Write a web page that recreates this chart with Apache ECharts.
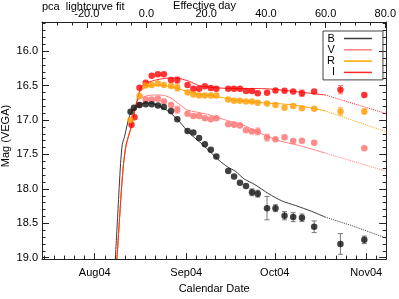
<!DOCTYPE html>
<html><head><meta charset="utf-8">
<script src="https://cdn.jsdelivr.net/npm/echarts@6/dist/echarts.min.js"></script>
<style>html,body{margin:0;padding:0;background:#fff}#c{width:399px;height:299px}</style>
</head><body><div id="c"></div>
<script>
// calendar axis: days since 2004 Aug 1
const monthTicks = [0, 31, 61, 92];
const monthLabels = ['Aug04', 'Sep04', 'Oct04', 'Nov04'];
const monthStarts = [-31, 0, 31, 61, 92, 122];
const effTicks = [-20, 0, 20, 40, 60, 80];
const magTicks = [16.0, 16.5, 17.0, 17.5, 18.0, 18.5, 19.0];

// observed photometry
const dayB = [12.13, 13.31, 15.17, 17.29, 19.31, 21.40, 23.42, 25.85, 27.97, 31.45, 33.43, 35.36, 37.31, 39.33, 41.22, 45.23, 47.22, 49.21, 51.26, 53.29, 55.24, 58.38, 61.24, 64.31, 67.24, 70.21, 74.35, 83.25, 91.34];
const magB = [16.88, 16.82, 16.78, 16.77, 16.77, 16.79, 16.81, 16.87, 16.99, 17.16, 17.18, 17.26, 17.35, 17.43, 17.53, 17.74, 17.82, 17.91, 17.96, 18.05, 18.07, 18.28, 18.28, 18.39, 18.41, 18.42, 18.55, 18.80, 18.74];
const errB = [0, 0, 0, 0, 0, 0, 0, 0, 0, 0, 0, 0, 0, 0, 0, 0, 0, 0, 0, 0.05, 0.05, 0.17, 0.05, 0.06, 0.065, 0.055, 0.085, 0.15, 0.055];

const dayV = [15.17, 17.29, 19.31, 21.40, 23.42, 25.85, 27.97, 31.45, 33.43, 35.36, 37.31, 39.33, 41.22, 45.23, 47.22, 49.21, 51.26, 53.29, 55.24, 58.38, 61.24, 64.31, 67.24, 70.21, 74.35, 91.34];
const magV = [16.78, 16.70, 16.70, 16.69, 16.73, 16.78, 16.85, 16.91, 16.94, 16.94, 16.975, 16.99, 16.975, 17.06, 17.07, 17.08, 17.15, 17.165, 17.165, 17.255, 17.28, 17.25, 17.305, 17.30, 17.33, 17.41];
const errV = [0, 0, 0, 0, 0, 0, 0.05, 0, 0, 0, 0, 0, 0, 0, 0, 0, 0, 0, 0.05, 0.05, 0, 0, 0, 0, 0, 0];

const dayR = [12.13, 15.17, 17.29, 19.31, 21.40, 23.42, 25.85, 27.97, 31.45, 33.43, 35.36, 37.31, 39.33, 41.22, 45.23, 47.22, 49.21, 51.26, 53.29, 55.24, 58.38, 61.24, 64.31, 67.24, 70.21, 74.35, 83.25, 91.34];
const magR = [17.00, 16.65, 16.50, 16.49, 16.47, 16.49, 16.505, 16.53, 16.60, 16.63, 16.645, 16.645, 16.645, 16.645, 16.70, 16.72, 16.72, 16.73, 16.73, 16.75, 16.76, 16.78, 16.82, 16.795, 16.83, 16.835, 16.875, 16.875];
const errR = [0, 0, 0, 0, 0, 0, 0, 0.05, 0, 0, 0, 0, 0, 0, 0, 0, 0, 0, 0, 0, 0, 0, 0, 0, 0, 0, 0.055, 0.035];

const dayI = [12.47, 13.48, 15.17, 17.29, 19.31, 21.40, 23.42, 25.85, 27.97, 31.45, 33.43, 35.36, 37.31, 39.33, 41.22, 45.23, 47.22, 49.21, 51.26, 53.29, 55.24, 58.38, 61.24, 64.31, 67.24, 70.21, 74.35, 83.25, 91.34];
const magI = [17.07, 16.96, 16.53, 16.46, 16.355, 16.335, 16.335, 16.42, 16.42, 16.49, 16.545, 16.545, 16.51, 16.535, 16.545, 16.545, 16.545, 16.545, 16.58, 16.58, 16.61, 16.605, 16.57, 16.575, 16.585, 16.61, 16.585, 16.56, 16.635];
const errI = [0, 0, 0, 0, 0, 0, 0, 0, 0.045, 0, 0, 0, 0, 0, 0, 0, 0, 0, 0, 0, 0, 0, 0, 0, 0, 0.045, 0, 0.06, 0];

// template fits (solid part) and extrapolation (dotted part)
const fitDayB = [6.98, 7.68, 8.29, 8.76, 9.34, 10.11, 11.80, 13.48, 15.17, 17.43, 19.65, 21.91, 25.28, 28.65, 32.02, 36.50, 42.13, 44.93, 47.76, 50.56, 54.26, 58.98, 63.36, 68.08, 73.47, 78.09];
const fitMagB = [19.02, 18.465, 17.979, 17.632, 17.354, 17.239, 16.938, 16.822, 16.775, 16.753, 16.761, 16.799, 16.882, 17.021, 17.188, 17.354, 17.586, 17.678, 17.747, 17.854, 17.938, 18.072, 18.174, 18.243, 18.326, 18.41];
const extDayB = [78.09, 87.63, 98.75];
const extMagB = [18.41, 18.542, 18.715];

const fitDayV = [7.52, 8.36, 9.10, 9.77, 10.68, 12.37, 13.31, 14.49, 17.43, 20.22, 23.02, 25.85, 28.65, 31.45, 38.19, 44.93, 49.44, 57.30, 62.35, 69.09, 78.09];
const fitMagV = [19.02, 18.465, 17.979, 17.632, 17.354, 17.10, 16.896, 16.715, 16.65, 16.636, 16.639, 16.681, 16.771, 16.854, 16.917, 17.007, 17.056, 17.215, 17.299, 17.368, 17.479];
const extDayV = [78.09, 98.75];
const extMagV = [17.479, 17.743];

const fitDayR = [7.52, 8.36, 9.10, 9.77, 10.68, 12.37, 14.05, 15.17, 17.19, 19.55, 23.59, 26.96, 32.02, 38.09, 49.44, 57.30, 66.73, 74.72, 78.09];
const fitMagR = [19.02, 18.465, 17.979, 17.632, 17.354, 17.10, 16.774, 16.604, 16.521, 16.493, 16.50, 16.528, 16.590, 16.636, 16.719, 16.75, 16.778, 16.836, 16.868];
const extDayR = [78.09, 98.75];
const extMagR = [16.868, 17.169];

const fitDayI = [7.52, 8.36, 9.10, 9.77, 10.68, 12.37, 14.05, 15.17, 16.28, 17.19, 20.22, 23.59, 27.54, 32.02, 35.39, 42.13, 48.87, 57.30, 66.73, 78.09];
const fitMagI = [19.02, 18.465, 17.979, 17.632, 17.354, 17.10, 16.774, 16.58, 16.493, 16.465, 16.424, 16.396, 16.389, 16.438, 16.50, 16.535, 16.542, 16.544, 16.581, 16.636];
const extDayI = [78.09, 98.75];
const extMagI = [16.636, 16.906];

const FONT = '"Liberation Sans", Arial, Helvetica, sans-serif';
const X_MIN = -17.86, X_MAX = 98.75;
const E_MIN = -35.0, E_MAX = 80.3;
const Y_MIN = 15.576, Y_MAX = 19.02;

const dayMinor = [];
for (let i = 0; i < monthStarts.length - 1; i++) {
  const a = monthStarts[i], b = monthStarts[i + 1];
  for (let k = 1; k < 9; k++) { const v = a + k * (b - a) / 9; if (v > X_MIN && v < X_MAX) dayMinor.push(v); }
}
const effMinor = [];
for (let e = -30; e <= 80; e += 5) if (e % 20 !== 0) effMinor.push(e);
const magMinor = [];
for (let k = 156; k <= 190; k++) if (k % 5 !== 0) magMinor.push(k / 10);

const axColor = '#222';
const lbl = { color: '#000', fontSize: 11, fontFamily: FONT };

function pairs(a, b) { return a.map((d, i) => [d, b[i]]); }

function axisX(pos, min, max, ticks, len, labels, fmt, margin, showLine) {
  return {
    type: 'value', position: pos, min: min, max: max,
    axisLine: { show: showLine, onZero: false, lineStyle: { color: axColor, width: 1 } },
    splitLine: { show: false },
    axisTick: { show: true, inside: true, length: len, customValues: ticks, lineStyle: { color: axColor, width: 1 } },
    axisLabel: labels ? Object.assign({ show: true, customValues: labels, formatter: fmt, margin: margin }, lbl) : { show: false }
  };
}
function axisY(pos, ticks, len, labels, showLine) {
  return {
    type: 'value', position: pos, inverse: true, min: Y_MIN, max: Y_MAX,
    axisLine: { show: showLine, onZero: false, lineStyle: { color: axColor, width: 1 } },
    splitLine: { show: false },
    axisTick: { show: true, inside: true, length: len, customValues: ticks, lineStyle: { color: axColor, width: 1 } },
    axisLabel: labels ? Object.assign({ show: true, customValues: labels, formatter: v => v.toFixed(1), margin: 4 }, lbl) : { show: false }
  };
}

function lineSeries(name, d, m, color, dotted) {
  return {
    name: name, type: 'line', xAxisIndex: 0, yAxisIndex: 0, data: pairs(d, m),
    showSymbol: false, symbol: 'none', smooth: dotted ? false : 0.25, z: 2, silent: true,
    itemStyle: { color: color },
    lineStyle: { color: color, width: 1, type: dotted ? 'dotted' : 'solid' }
  };
}
function pointSeries(name, d, m, color) {
  return {
    name: name, type: 'scatter', xAxisIndex: 0, yAxisIndex: 0, data: pairs(d, m),
    symbol: 'circle', symbolSize: 6.5, z: 4, silent: true,
    itemStyle: { color: color, borderWidth: 0 }
  };
}
function errSeries(name, d, m, e, color) {
  const data = [];
  d.forEach((x, i) => { if (e[i] > 0) data.push([x, m[i], e[i]]); });
  return {
    name: name, type: 'custom', xAxisIndex: 0, yAxisIndex: 0, z: 3, silent: true, data: data,
    encode: { x: 0, y: 1 },
    renderItem: function (params, api) {
      const x = api.value(0), y = api.value(1), er = api.value(2);
      const p1 = api.coord([x, y - er]), p2 = api.coord([x, y + er]);
      const cw = 2.5, st = { stroke: color, lineWidth: 1 };
      return { type: 'group', children: [
        { type: 'line', shape: { x1: p1[0], y1: p1[1], x2: p2[0], y2: p2[1] }, style: st },
        { type: 'line', shape: { x1: p1[0] - cw, y1: p1[1], x2: p1[0] + cw, y2: p1[1] }, style: st },
        { type: 'line', shape: { x1: p2[0] - cw, y1: p2[1], x2: p2[0] + cw, y2: p2[1] }, style: st }
      ] };
    }
  };
}

const colB = '#111111', colV = '#ff6e6e', colR = '#ff9c00', colI = '#ff0000';
const lineB = '#3a3a3a', lineV = '#ff8080', lineR = '#ffa500', lineI = '#ff2a2a';

const chart = echarts.init(document.getElementById('c'), null, { renderer: 'canvas' });
chart.setOption({
  animation: false,
  backgroundColor: '#fff',
  grid: { left: 42, right: 11, top: 22, bottom: 29, containLabel: false },
  xAxis: [
    Object.assign(axisX('bottom', X_MIN, X_MAX, monthTicks, 6, monthTicks, v => monthLabels[monthTicks.indexOf(Math.round(v))], 8, true), {
      name: 'Calendar Date', nameLocation: 'middle', nameGap: 19, nameTextStyle: lbl
    }),
    axisX('bottom', X_MIN, X_MAX, dayMinor, 3.5, null, null, 0, false),
    axisX('top', E_MIN, E_MAX, effTicks, 6, effTicks, v => v.toFixed(1), 3, true),
    axisX('top', E_MIN, E_MAX, effMinor, 3.5, null, null, 0, false)
  ],
  yAxis: [
    axisY('left', magTicks, 7, magTicks, true),
    axisY('left', magMinor, 3.5, null, false),
    axisY('right', magTicks, 7, null, true),
    axisY('right', magMinor, 3.5, null, false)
  ],
  legend: {
    data: ['B', 'V', 'R', 'I'],
    orient: 'vertical', align: 'right', left: 323, top: 31,
    icon: 'rect', itemWidth: 28, itemHeight: 1.5, itemGap: 0.3,
    padding: [2, 11, 2, 4],
    borderColor: '#444', borderWidth: 1, borderRadius: 0,
    textStyle: { color: '#000', fontSize: 11, fontFamily: FONT, padding: [0, 4, 0, 0] },
    selectedMode: false
  },
  graphic: [
    { type: 'text', left: 42, top: 1, style: { text: 'pca  lightcurve fit', fill: '#000', font: '11px ' + FONT } },
    { type: 'text', x: 204.5, y: 6, style: { text: 'Effective day', fill: '#000', font: '11px ' + FONT, textAlign: 'center', textVerticalAlign: 'middle' } },
    { type: 'text', x: 6, y: 136, rotation: Math.PI / 2, style: { text: 'Mag (VEGA)', fill: '#000', font: '11px ' + FONT, textAlign: 'center', textVerticalAlign: 'middle' } }
  ],
  series: [
    lineSeries('B', fitDayB, fitMagB, lineB, false),
    lineSeries('V', fitDayV, fitMagV, lineV, false),
    lineSeries('R', fitDayR, fitMagR, lineR, false),
    lineSeries('I', fitDayI, fitMagI, lineI, false),
    lineSeries('B ext', extDayB, extMagB, lineB, true),
    lineSeries('V ext', extDayV, extMagV, lineV, true),
    lineSeries('R ext', extDayR, extMagR, lineR, true),
    lineSeries('I ext', extDayI, extMagI, lineI, true),
    errSeries('I err', dayI, magI, errI, '#ff7070'),
    errSeries('R err', dayR, magR, errR, '#ffbb55'),
    errSeries('V err', dayV, magV, errV, '#ffa0a0'),
    errSeries('B err', dayB, magB, errB, '#777777'),
    pointSeries('I obs', dayI, magI, colI),
    pointSeries('R obs', dayR, magR, colR),
    pointSeries('V obs', dayV, magV, colV),
    pointSeries('B obs', dayB, magB, colB)
  ]
});
</script>
</body></html>
